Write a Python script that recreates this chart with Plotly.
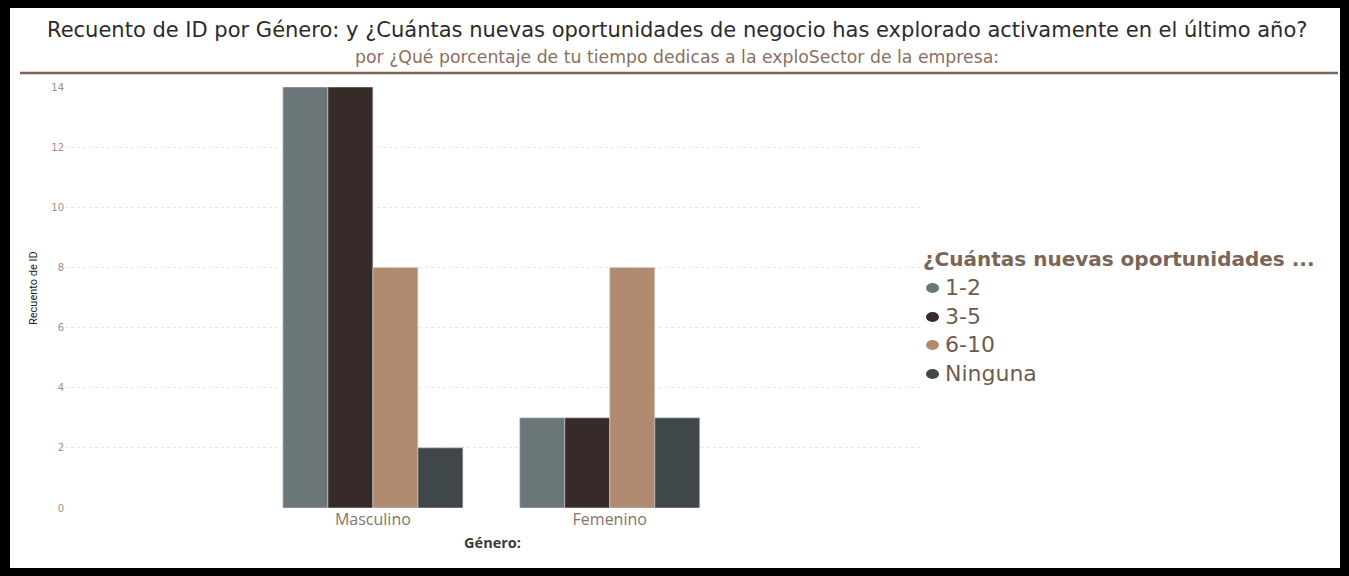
import plotly.graph_objects as go

# Data
generos = ["Masculino", "Femenino"]
oportunidades = ["1-2", "3-5", "6-10", "Ninguna"]
conteo_1_2 = [14, 3]
conteo_3_5 = [14, 3]
conteo_6_10 = [8, 8]
conteo_ninguna = [2, 3]
y_ticks = [0, 2, 4, 6, 8, 10, 12, 14]

series = [conteo_1_2, conteo_3_5, conteo_6_10, conteo_ninguna]
colores = ["#6B7679", "#372B2A", "#B08B70", "#3F4748"]

W, H = 1349, 576
L, R, T, B = 65, 429, 87, 68
PW, PH = W - L - R, H - T - B


def px(x):
    return (x - L) / PW


def py(y):
    return (H - B - y) / PH


fig = go.Figure()
for nombre, valores, color in zip(oportunidades, series, colores):
    fig.add_trace(go.Bar(
        x=generos, y=valores, name=nombre,
        marker=dict(color=color, line=dict(color="rgba(210,210,210,0.6)", width=1)),
        showlegend=False,
    ))

font_main = "Open Sans"
wide = "DejaVu Sans"
brown = "#7B6656"

annotations = [
    dict(text="Recuento de ID por Género: y ¿Cuántas nuevas oportunidades de negocio has explorado activamente en el último año?",
         x=px(677), y=py(30), xref="paper", yref="paper", showarrow=False,
         xanchor="center", yanchor="middle",
         font=dict(family=wide, size=21, color="#2b2b2b")),
    dict(text="por ¿Qué porcentaje de tu tiempo dedicas a la exploSector de la empresa:",
         x=px(677), y=py(57), xref="paper", yref="paper", showarrow=False,
         xanchor="center", yanchor="middle",
         font=dict(family=wide, size=17.3, color="#8B6F5E")),
    dict(text="Recuento de ID", textangle=-90,
         x=px(33), y=py(288), xref="paper", yref="paper", showarrow=False,
         xanchor="center", yanchor="middle",
         font=dict(family="Roboto", size=11, color="#222222")),
    dict(text="<b>¿Cuántas nuevas oportunidades ...</b>",
         x=px(921), y=py(259), xref="paper", yref="paper", showarrow=False,
         xanchor="left", yanchor="middle",
         font=dict(family=wide, size=20, color=brown)),
]

shapes = [
    # white card on black frame
    dict(type="rect", xref="paper", yref="paper", layer="below",
         x0=px(10), x1=px(1340), y0=py(568), y1=py(8),
         fillcolor="white", line=dict(width=0)),
    # header rule
    dict(type="line", xref="paper", yref="paper",
         x0=px(20), x1=px(1338), y0=py(73), y1=py(73),
         line=dict(color=brown, width=2.5)),
]

# Legend entries: dot + label
legend_y = [288, 317, 345, 374]
for nombre, color, yy in zip(oportunidades, colores, legend_y):
    shapes.append(dict(
        type="circle", xref="paper", yref="paper",
        x0=px(926), x1=px(939), y0=py(yy + 5), y1=py(yy - 5),
        fillcolor=color, line=dict(width=0),
    ))
    annotations.append(dict(
        text=nombre,
        x=px(943), y=py(yy - 1), xref="paper", yref="paper", showarrow=False,
        xanchor="left", yanchor="middle",
        font=dict(family=wide, size=22, color="#6F5C50"),
    ))

fig.update_layout(
    width=W, height=H,
    margin=dict(l=L, r=R, t=T, b=B),
    paper_bgcolor="black",
    plot_bgcolor="white",
    barmode="group",
    bargap=0.24,
    bargroupgap=0,
    annotations=annotations,
    shapes=shapes,
    xaxis=dict(
        type="category", range=[-1.3, 2.31],
        showgrid=False, showline=False, zeroline=False, ticks="",
        tickfont=dict(family=font_main, size=16, color="#85756B"),
        title=dict(text="<b>Género:</b>", font=dict(family=font_main, size=14.5, color="#3a3a3a"), standoff=8),
    ),
    yaxis=dict(
        range=[0, 14], tickvals=y_ticks,
        showgrid=True, gridcolor="#E6E6E6", griddash="dot", gridwidth=1,
        zeroline=False, showline=False, ticks="",
        tickfont=dict(family=wide, size=10, color="#A09088"),
    ),
)

fig.write_html("out.html")
